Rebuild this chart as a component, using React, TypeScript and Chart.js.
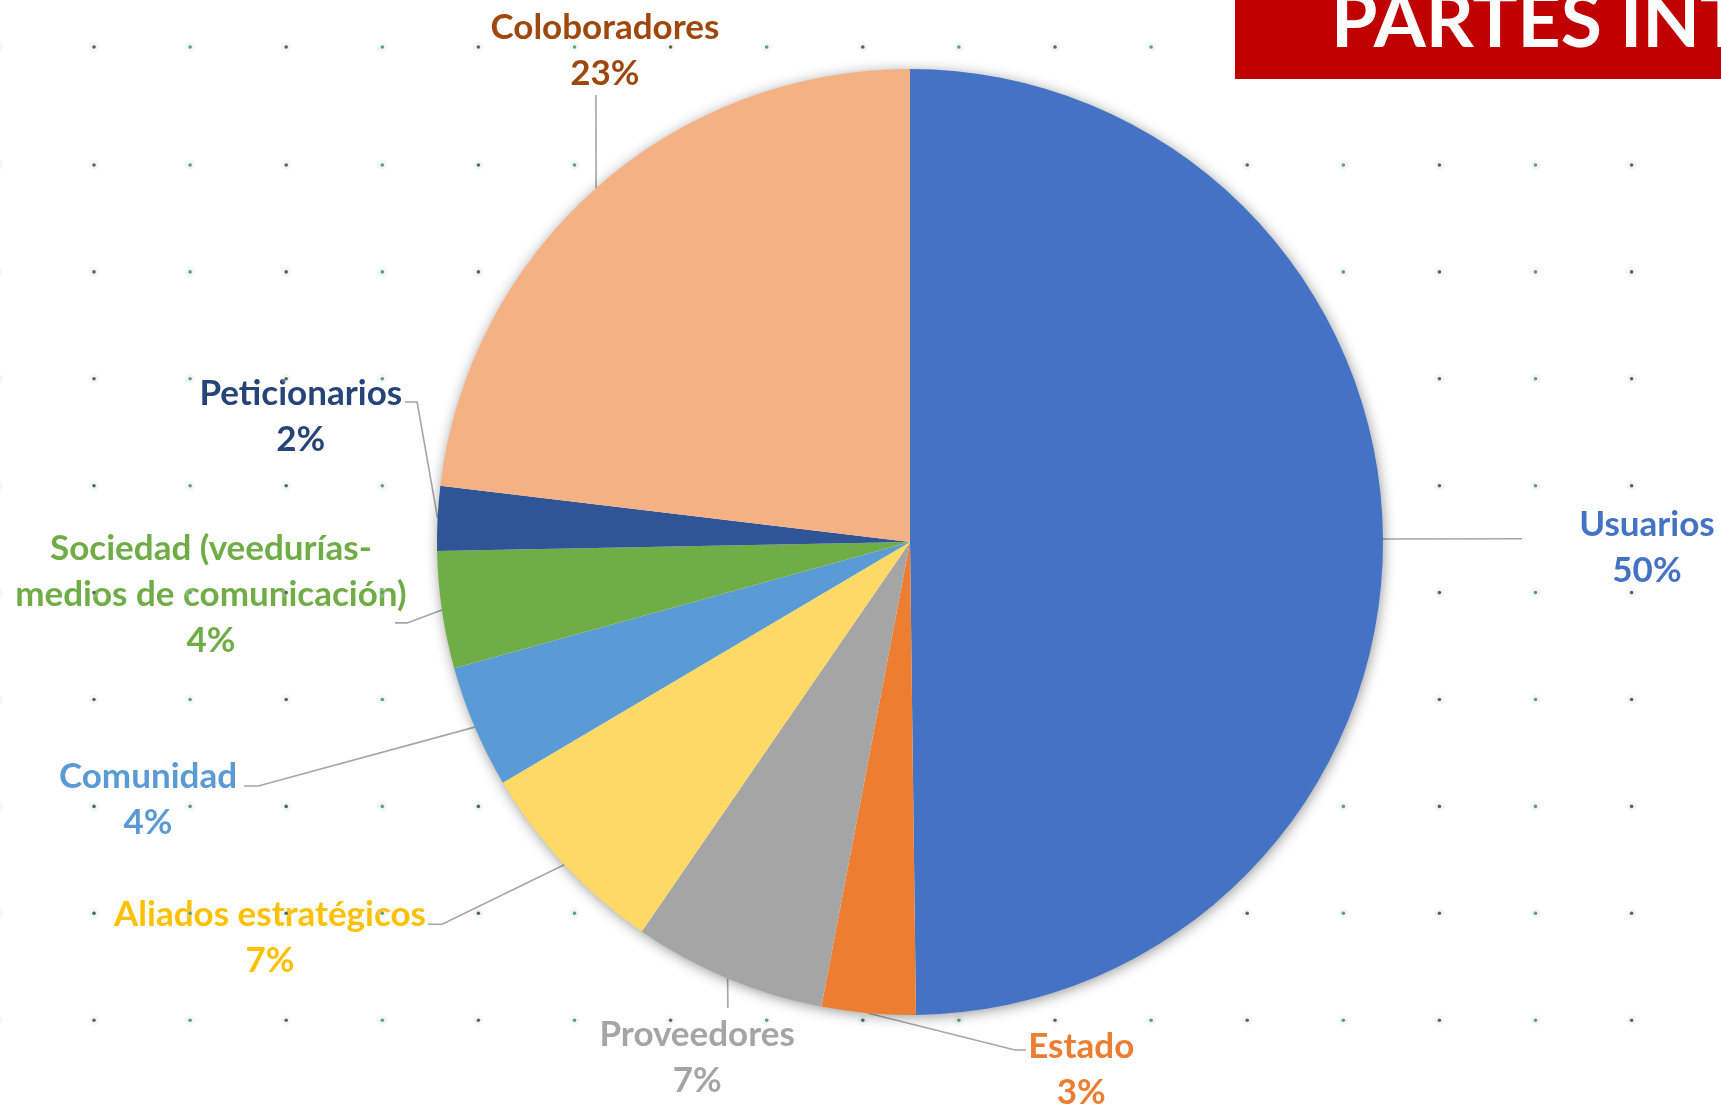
import { useEffect, useRef } from "react";
import { Chart, registerables } from "chart.js";

Chart.register(...registerables);

const W = 1721;
const H = 1106;

const categories = [
  "Usuarios",
  "Estado",
  "Proveedores",
  "Aliados estratégicos",
  "Comunidad",
  "Sociedad (veedurías-medios de comunicación)",
  "Peticionarios",
  "Coloboradores",
];
const labelLines: string[][] = [
  ["Usuarios"],
  ["Estado"],
  ["Proveedores"],
  ["Aliados estratégicos"],
  ["Comunidad"],
  ["Sociedad (veedurías-", "medios de comunicación)"],
  ["Peticionarios"],
  ["Coloboradores"],
];
const values = [49.8, 3.2, 6.6, 6.9, 4.2, 4.0, 2.2, 23.1];
const sliceColors = ["#4472C4", "#ED7D31", "#A5A5A5", "#FFD966", "#5B9BD5", "#70AD47", "#2F5597", "#F4B183"];
const labelColors = ["#4472C4", "#ED7D31", "#A5A5A5", "#FFC000", "#5B9BD5", "#70AD47", "#264478", "#9E480E"];
const titleText = "PARTES INTERESADAS";

// label block centres, in pie-radius units relative to the pie centre
const labelCentres: [number, number][] = [
  [1.558, 0.012],
  [0.362, 1.116],
  [-0.45, 1.091],
  [-1.353, 0.837],
  [-1.611, 0.545],
  [-1.478, 0.112],
  [-1.288, -0.264],
  [-0.645, -1.038],
];
// leader line points after the slice edge point, in pie-radius units
const leaderPaths: [number, number][][] = [
  [[1.294, -0.007]],
  [[0.222, 1.074], [0.245, 1.074]],
  [[-0.385, 0.985]],
  [[-0.989, 0.808], [-1.019, 0.808]],
  [[-1.378, 0.516], [-1.408, 0.516]],
  [[-1.063, 0.171], [-1.089, 0.171]],
  [[-1.042, -0.296], [-1.068, -0.296]],
  [[-0.664, -0.945]],
];

const FONT = "Lato, 'Open Sans', sans-serif";

const decorPlugin = {
  id: "decor",
  beforeDatasetsDraw(chart: any) {
    const ctx = chart.ctx as CanvasRenderingContext2D;
    const meta = chart.getDatasetMeta(0);
    const total = values.reduce((a, b) => a + b, 0);
    const first = meta.data[0];
    const cx = first.x;
    const cy = first.y;
    const R = first.outerRadius;

    // leader lines
    ctx.save();
    ctx.strokeStyle = "#A6A6A6";
    ctx.lineWidth = 1.6;
    meta.data.forEach((arc: any, i: number) => {
      const mid = (arc.startAngle + arc.endAngle) / 2;
      const ex = cx + Math.cos(mid) * R;
      const ey = cy + Math.sin(mid) * R;
      ctx.beginPath();
      ctx.moveTo(ex, ey);
      leaderPaths[i].forEach(([px, py]) => ctx.lineTo(cx + px * R, cy + py * R));
      ctx.stroke();
    });
    ctx.restore();

    // labels
    ctx.save();
    ctx.font = `bold 35px ${FONT}`;
    ctx.textAlign = "center";
    ctx.textBaseline = "middle";
    const lh = 46;
    values.forEach((v, i) => {
      const lines = [...labelLines[i], `${Math.round((v / total) * 100)}%`];
      const bx = cx + labelCentres[i][0] * R;
      const by = cy + labelCentres[i][1] * R;
      ctx.fillStyle = labelColors[i];
      lines.forEach((t, k) => {
        ctx.fillText(t, bx, by + (k - (lines.length - 1) / 2) * lh);
      });
    });
    ctx.restore();

    // dotted background pattern
    ctx.save();
    const rows = [47];
    for (let k = 0; k < 9; k++) rows.push(165 + k * 106.9);
    for (let c = -1; c < 18; c++) {
      const x = 94 + c * 96.1;
      rows.forEach((y) => {
        ctx.fillStyle = "rgba(210,225,215,0.25)";
        ctx.beginPath();
        ctx.arc(x, y, 5, 0, Math.PI * 2);
        ctx.fill();
        ctx.fillStyle = c % 2 === 0 ? "#4E6B60" : "#5DA376";
        ctx.beginPath();
        ctx.arc(x, y, 1.8, 0, Math.PI * 2);
        ctx.fill();
      });
    }
    ctx.restore();

    // pie shadow
    ctx.save();
    ctx.shadowColor = "rgba(0,0,0,0.45)";
    ctx.shadowBlur = 14;
    ctx.shadowOffsetX = 1;
    ctx.shadowOffsetY = 2;
    ctx.fillStyle = "#ffffff";
    ctx.beginPath();
    ctx.arc(cx, cy, R - 1, 0, Math.PI * 2);
    ctx.fill();
    ctx.restore();
  },
  afterDraw(chart: any) {
    const ctx = chart.ctx as CanvasRenderingContext2D;
    ctx.save();
    ctx.fillStyle = "#C00000";
    ctx.fillRect(1235, 0, W - 1235, 79);
    ctx.fillStyle = "#ffffff";
    ctx.font = `bold 75px ${FONT}`;
    ctx.textAlign = "left";
    ctx.textBaseline = "alphabetic";
    ctx.fillText(titleText, 1331, 47);
    ctx.restore();
  },
};

export default function App() {
  const ref = useRef<HTMLCanvasElement | null>(null);

  useEffect(() => {
    document.body.style.margin = "0";
    const canvas = ref.current;
    if (!canvas) return;
    const chart = new Chart(canvas, {
      type: "pie",
      data: {
        labels: categories,
        datasets: [
          {
            data: values,
            backgroundColor: sliceColors,
            borderWidth: 0,
          },
        ],
      },
      options: {
        responsive: false,
        animation: false,
        layout: { padding: { top: 69, bottom: 91, left: 437, right: 338 } },
        plugins: {
          legend: { display: false },
          tooltip: { enabled: false },
          title: { display: false },
        },
      },
      plugins: [decorPlugin],
    });
    return () => chart.destroy();
  }, []);

  return (
    <div style={{ position: "fixed", left: 0, top: 0, width: W, height: H, background: "#ffffff", overflow: "hidden" }}>
      <canvas ref={ref} width={W} height={H} style={{ width: W, height: H, display: "block" }} />
    </div>
  );
}
